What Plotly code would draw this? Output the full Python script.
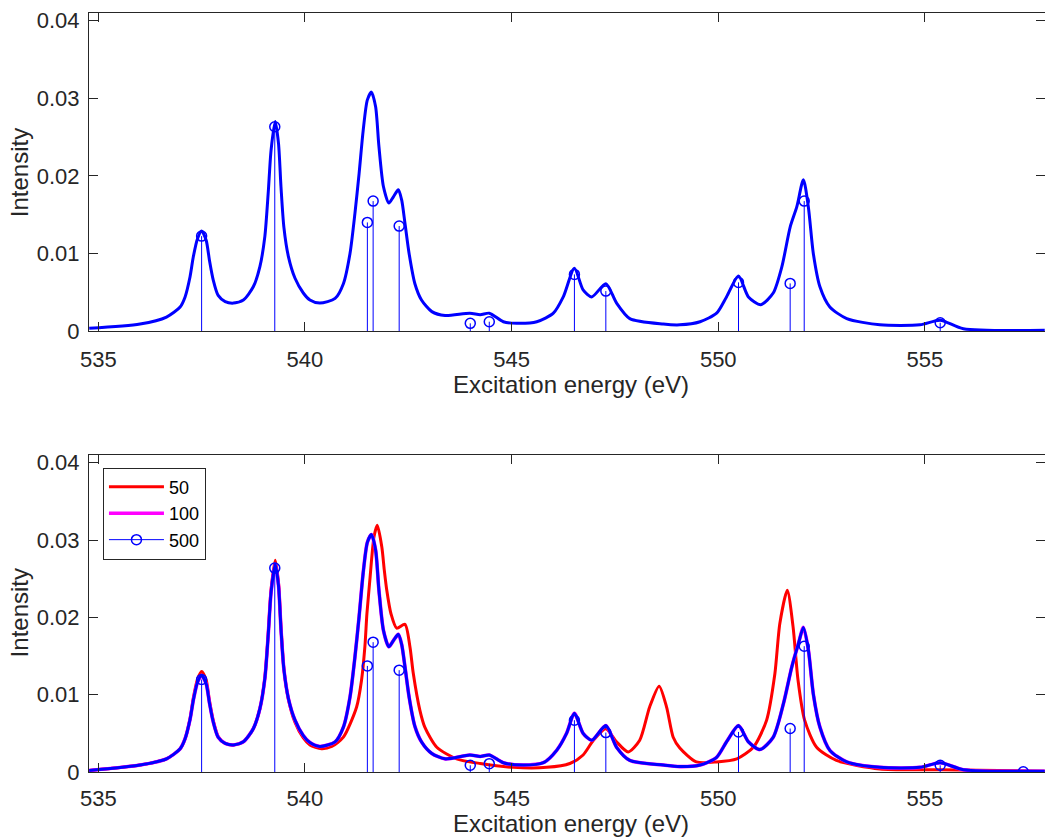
import plotly.graph_objects as go

# ---------------- data ----------------
# stick (transition) energies and intensities, top panel
stick_top_x = [537.50, 539.27, 541.51, 541.65, 542.28, 544.00, 544.46,
               546.52, 547.28, 550.49, 551.74, 552.08, 555.37]
stick_top_y = [0.01224, 0.02633, 0.01400, 0.01675, 0.01353, 0.00099, 0.00120,
               0.00730, 0.00515, 0.00627, 0.00614, 0.01675, 0.00107]

# stick energies and intensities, bottom panel (series "500")
stick_bot_x = [537.50, 539.27, 541.51, 541.65, 542.28, 544.00, 544.46,
               546.52, 547.28, 550.49, 551.74, 552.08, 555.37, 557.38]
stick_bot_y = [0.01196, 0.02637, 0.01372, 0.01679, 0.01317, 0.00087, 0.00108,
               0.00670, 0.00510, 0.00518, 0.00562, 0.01627, 0.00087, 0.00002]

# broadened spectrum, top panel
top_e = [534.78, 536.01, 536.65, 536.98, 537.10, 537.22, 537.30, 537.40, 537.50, 537.61,
         537.69, 537.78, 537.90, 538.07, 538.27, 538.51, 538.75, 538.91, 539.03, 539.11,
         539.18, 539.28, 539.36, 539.42, 539.49, 539.60, 539.76, 539.96, 540.12, 540.36,
         540.73, 540.93, 541.09, 541.21, 541.31, 541.41, 541.51, 541.61, 541.71, 541.79,
         541.90, 542.03, 542.14, 542.26, 542.34, 542.42, 542.52, 542.66, 542.82, 543.07,
         543.39, 543.99, 544.24, 544.46, 544.80, 545.12, 545.61, 546.01, 546.25, 546.52,
         546.73, 546.94, 547.28, 547.54, 547.86, 548.67, 549.07, 549.56, 549.96, 550.20,
         550.49, 550.73, 551.03, 551.33, 551.54, 551.74, 551.90, 552.06, 552.18, 552.30,
         552.46, 552.70, 553.11, 553.91, 554.88, 555.37, 555.93, 557.90]
top_i = [0.00035, 0.0009, 0.0018, 0.0031, 0.0044, 0.0070, 0.0096, 0.0119, 0.0129, 0.0117,
         0.0091, 0.0066, 0.0046, 0.0038, 0.0036, 0.0040, 0.0057, 0.0083, 0.0122, 0.0177,
         0.0233, 0.0270, 0.0242, 0.0186, 0.0134, 0.0096, 0.0068, 0.0049, 0.0040, 0.0036,
         0.0042, 0.0061, 0.0100, 0.0152, 0.0203, 0.0259, 0.0298, 0.0308, 0.0289, 0.0238,
         0.0186, 0.0165, 0.0173, 0.0182, 0.0169, 0.0139, 0.0100, 0.0061, 0.0040, 0.0025,
         0.0020, 0.0023, 0.0021, 0.0023, 0.0012, 0.0010, 0.0012, 0.0023, 0.0044, 0.0081,
         0.0053, 0.0044, 0.0061, 0.0036, 0.0016, 0.0009, 0.0008, 0.0012, 0.0023, 0.0044,
         0.0071, 0.0044, 0.0034, 0.0049, 0.0083, 0.0134, 0.0160, 0.0195, 0.0160, 0.0100,
         0.0057, 0.0031, 0.0016, 0.0008, 0.0008, 0.0014, 0.0003, 0.0001]

# bottom panel, series "500" (series "100" coincides with it on the picture)
b500_e = [534.78, 536.01, 536.65, 536.98, 537.10, 537.22, 537.30, 537.40, 537.50, 537.61,
          537.69, 537.78, 537.90, 538.07, 538.27, 538.51, 538.75, 538.91, 539.03, 539.11,
          539.18, 539.28, 539.36, 539.42, 539.49, 539.60, 539.76, 539.96, 540.12, 540.36,
          540.73, 540.93, 541.09, 541.21, 541.31, 541.41, 541.51, 541.61, 541.71, 541.79,
          541.90, 542.03, 542.14, 542.26, 542.34, 542.42, 542.52, 542.66, 542.82, 543.07,
          543.39, 543.99, 544.24, 544.46, 544.80, 545.28, 545.77, 546.09, 546.33, 546.52,
          546.73, 546.94, 547.28, 547.54, 547.86, 548.67, 549.07, 549.56, 549.96, 550.20,
          550.49, 550.73, 551.01, 551.33, 551.58, 551.78, 551.94, 552.06, 552.18, 552.30,
          552.46, 552.70, 553.11, 553.91, 554.88, 555.37, 555.93, 557.90]
b500_i = [0.0002, 0.0009, 0.0017, 0.0030, 0.0043, 0.0068, 0.0093, 0.0116, 0.0125, 0.0114,
          0.0089, 0.0065, 0.0045, 0.0037, 0.0035, 0.0039, 0.0056, 0.0082, 0.0121, 0.0176,
          0.0232, 0.0269, 0.0241, 0.0185, 0.0133, 0.0095, 0.0067, 0.0047, 0.0038, 0.0033,
          0.0039, 0.0058, 0.0097, 0.0149, 0.0201, 0.0258, 0.0297, 0.0307, 0.0287, 0.0235,
          0.0183, 0.0162, 0.0170, 0.0178, 0.0165, 0.0136, 0.0097, 0.0059, 0.0039, 0.0024,
          0.0017, 0.0022, 0.0020, 0.0022, 0.0012, 0.0009, 0.0012, 0.0028, 0.0050, 0.0076,
          0.0050, 0.0041, 0.0060, 0.0032, 0.0015, 0.0009, 0.0007, 0.0009, 0.0019, 0.0039,
          0.0060, 0.0039, 0.0029, 0.0045, 0.0089, 0.0136, 0.0166, 0.0187, 0.0158, 0.0101,
          0.0058, 0.0028, 0.0013, 0.0006, 0.0006, 0.0012, 0.0003, 0.0001]
b100_e = list(b500_e)
b100_i = list(b500_i)

# bottom panel, series "50"
b50_e = [534.78, 536.01, 536.65, 536.98, 537.10, 537.22, 537.30, 537.40, 537.50, 537.61,
         537.69, 537.78, 537.90, 538.07, 538.27, 538.51, 538.75, 538.91, 539.03, 539.11,
         539.18, 539.28, 539.36, 539.42, 539.49, 539.60, 539.76, 539.96, 540.12, 540.40,
         540.65, 540.93, 541.25, 541.37, 541.45, 541.50, 541.57, 541.67, 541.75, 541.86,
         541.92, 541.98, 542.08, 542.22, 542.42, 542.54, 542.62, 542.78, 542.90, 543.19,
         543.67, 544.24, 545.04, 545.85, 546.41, 546.73, 546.98, 547.28, 547.54, 547.82,
         548.10, 548.34, 548.57, 548.75, 548.91, 549.07, 549.47, 549.96, 550.45, 550.85,
         551.17, 551.37, 551.49, 551.67, 551.81, 551.93, 552.09, 552.38, 552.86, 553.91,
         555.37, 557.90]
b50_i = [0.0002, 0.0009, 0.0017, 0.0030, 0.0043, 0.0069, 0.0096, 0.0120, 0.0130, 0.0119,
         0.0092, 0.0067, 0.0046, 0.0037, 0.0035, 0.0039, 0.0056, 0.0082, 0.0122, 0.0178,
         0.0236, 0.0274, 0.0245, 0.0188, 0.0134, 0.0094, 0.0064, 0.0044, 0.0035, 0.0030,
         0.0033, 0.0045, 0.0084, 0.0119, 0.0162, 0.0205, 0.0248, 0.0304, 0.0319, 0.0291,
         0.0261, 0.0235, 0.0205, 0.0186, 0.0191, 0.0162, 0.0128, 0.0080, 0.0058, 0.0032,
         0.0017, 0.0011, 0.0006, 0.0006, 0.0011, 0.0022, 0.0041, 0.0056, 0.0039, 0.0026,
         0.0041, 0.0084, 0.0111, 0.0084, 0.0045, 0.0031, 0.0013, 0.0013, 0.0017, 0.0032,
         0.0067, 0.0127, 0.0192, 0.0235, 0.0188, 0.0119, 0.0067, 0.0032, 0.0015, 0.0004,
         0.0003, 0.0001]

legend_names = ["50", "100", "500"]
x_ticks = [535, 540, 545, 550, 555]
x_ticktext = ["535", "540", "545", "550", "555"]
y_ticks = [0, 0.01, 0.02, 0.03, 0.04]
y_ticktext = ["0", "0.01", "0.02", "0.03", "0.04"]
x_title = "Excitation energy (eV)"
y_title = "Intensity"

# ---------------- figure ----------------
BLUE = "#0000FF"
RED = "#FF0000"
MAG = "#FF00FF"
AX = "#262626"
FONT = "Liberation Sans, Arial, Helvetica, sans-serif"
CURVE = dict(width=3, shape="spline", smoothing=0.7)
MARK = dict(symbol="circle-open", size=10, color=BLUE, line=dict(width=1.5, color=BLUE))


def stems(xs, ys):
    sx, sy = [], []
    for x, y in zip(xs, ys):
        sx += [x, x, None]
        sy += [0, y, None]
    return sx, sy


fig = go.Figure()

# top panel
fig.add_trace(go.Scatter(x=top_e, y=top_i, mode="lines", line=dict(color=BLUE, **CURVE),
                         showlegend=False, xaxis="x", yaxis="y"))
sx, sy = stems(stick_top_x, stick_top_y)
fig.add_trace(go.Scatter(x=sx, y=sy, mode="lines", line=dict(color=BLUE, width=1),
                         showlegend=False, xaxis="x", yaxis="y"))
fig.add_trace(go.Scatter(x=stick_top_x, y=stick_top_y, mode="markers", marker=MARK,
                         showlegend=False, xaxis="x", yaxis="y"))

# bottom panel
fig.add_trace(go.Scatter(x=b50_e, y=b50_i, mode="lines", name=legend_names[0],
                         line=dict(color=RED, **CURVE), xaxis="x2", yaxis="y2", legendrank=1))
fig.add_trace(go.Scatter(x=b100_e, y=b100_i, mode="lines", name=legend_names[1],
                         line=dict(color=MAG, width=3.6, shape="spline", smoothing=0.7),
                         xaxis="x2", yaxis="y2", legendrank=2))
fig.add_trace(go.Scatter(x=b500_e, y=b500_i, mode="lines", line=dict(color=BLUE, **CURVE),
                         showlegend=False, xaxis="x2", yaxis="y2"))
sx, sy = stems(stick_bot_x, stick_bot_y)
fig.add_trace(go.Scatter(x=sx, y=sy, mode="lines", line=dict(color=BLUE, width=1),
                         showlegend=False, xaxis="x2", yaxis="y2"))
fig.add_trace(go.Scatter(x=stick_bot_x, y=stick_bot_y, mode="markers", marker=MARK,
                         showlegend=False, xaxis="x2", yaxis="y2"))
# legend entry for the stem series
fig.add_trace(go.Scatter(x=[None], y=[None], mode="lines+markers", name=legend_names[2],
                         line=dict(color=BLUE, width=1), marker=MARK,
                         xaxis="x2", yaxis="y2", legendrank=3))

XR = [534.775, 557.906]
YR = [0, 0.041]

axis_common = dict(showline=True, linecolor=AX, linewidth=1.2, mirror="ticks",
                   ticks="inside", ticklen=9, tickwidth=1.2, tickcolor=AX,
                   showgrid=False, zeroline=False,
                   tickfont=dict(family=FONT, size=22, color=AX))

fig.update_layout(
    width=1045, height=838,
    margin=dict(l=89, r=0, t=13, b=66),
    paper_bgcolor="white", plot_bgcolor="white",
    font=dict(family=FONT, color=AX),
    xaxis=dict(domain=[0, 1], anchor="y", range=XR, tickvals=x_ticks, ticktext=x_ticktext,
               ticklabelstandoff=8, **axis_common),
    yaxis=dict(domain=[0.581, 1], anchor="x", range=YR, tickvals=y_ticks, ticktext=y_ticktext,
               ticklabelstandoff=4, **axis_common),
    xaxis2=dict(domain=[0, 1], anchor="y2", range=XR, tickvals=x_ticks, ticktext=x_ticktext,
                ticklabelstandoff=6, **axis_common),
    yaxis2=dict(domain=[0, 0.4177], anchor="x2", range=YR, tickvals=y_ticks, ticktext=y_ticktext,
                ticklabelstandoff=4, **axis_common),
    showlegend=True,
    legend=dict(x=0.0146, y=0.401, xanchor="left", yanchor="top",
                bgcolor="white", bordercolor=AX, borderwidth=1,
                font=dict(family=FONT, size=18, color="black"),
                tracegroupgap=0, itemwidth=55),
    annotations=[
        dict(text=x_title, xref="paper", yref="paper", x=0.504, y=0.51, xanchor="center", yanchor="middle",
             showarrow=False, font=dict(family=FONT, size=24, color=AX)),
        dict(text=x_title, xref="paper", yref="paper", x=0.504, y=-0.0869, xanchor="center", yanchor="bottom",
             showarrow=False, borderpad=0, font=dict(family=FONT, size=24, color=AX)),
        dict(text=y_title, xref="paper", yref="paper", x=-0.0732, y=0.789, xanchor="center", yanchor="middle",
             textangle=-90, showarrow=False, font=dict(family=FONT, size=24, color=AX)),
        dict(text=y_title, xref="paper", yref="paper", x=-0.0732, y=0.209, xanchor="center", yanchor="middle",
             textangle=-90, showarrow=False, font=dict(family=FONT, size=24, color=AX)),
    ],
)

# remove the browser's default 8px page margin so the 1045x838 figure fills the window
fig.write_html("out.html", config={"displayModeBar": False},
               post_script="document.body.style.margin='0';document.body.style.overflow='hidden';")
